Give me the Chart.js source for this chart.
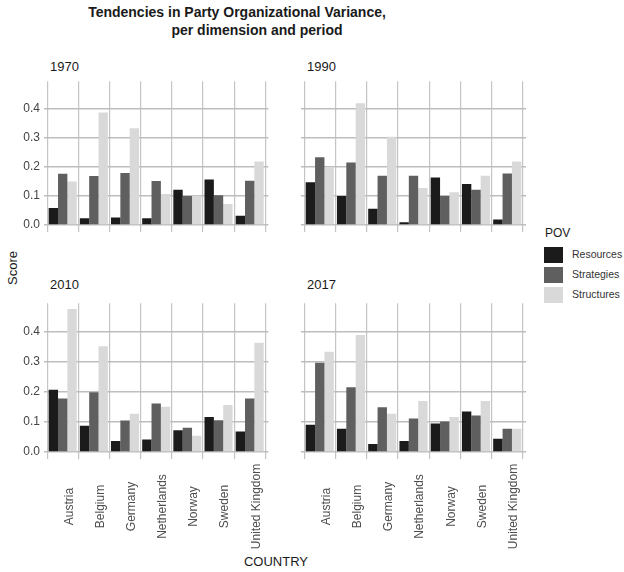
<!DOCTYPE html>
<html>
<head>
<meta charset="utf-8">
<script src="https://cdn.jsdelivr.net/npm/chart.js@4/dist/chart.umd.min.js"></script>
<style>
  body { margin: 0; background: #fff; font-family: 'Liberation Sans', Arial, sans-serif; }
  #page { position: relative; width: 624px; height: 572px; overflow: hidden; }
  canvas { position: absolute; }
  .txt { position: absolute; white-space: nowrap; color: #1a1a1a; }
  .title { font-weight: bold; font-size: 14px; transform: translateX(-50%); }
  .facet { font-size: 13px; }
  .swatch { position: absolute; width: 19px; height: 16px; }
  .leg { font-size: 10.5px; color: #333; }
</style>
</head>
<body>
<div id="page">
  <div class="txt title" style="left:237px; top:4px;">Tendencies in Party Organizational Variance,</div>
  <div class="txt title" style="left:257px; top:22px;">per dimension and period</div>

  <div class="txt facet" style="left:50px; top:59px;">1970</div>
  <div class="txt facet" style="left:307px; top:59px;">1990</div>
  <div class="txt facet" style="left:50px; top:277px;">2010</div>
  <div class="txt facet" style="left:307px; top:277px;">2017</div>

  <div class="txt" style="left:12px; top:268px; font-size:13px; transform: translate(-50%,-50%) rotate(-90deg);">Score</div>
  <div class="txt" style="left:276px; top:554px; font-size:13px; transform: translateX(-50%);">COUNTRY</div>

  <div class="txt" style="left:545px; top:226px; font-size:12px;">POV</div>
  <div id="legend"></div>

  <canvas id="c1970" width="270" height="173" style="left:0px; top:70px;"></canvas>
  <canvas id="c1990" width="230" height="173" style="left:296px; top:70px;"></canvas>
  <canvas id="c2010" width="270" height="263" style="left:0px; top:292px;"></canvas>
  <canvas id="c2017" width="230" height="263" style="left:296px; top:292px;"></canvas>
</div>
<script>
// Données
const countries = ['Austria', 'Belgium', 'Germany', 'Netherlands', 'Norway', 'Sweden', 'United Kingdom'];
const seriesNames = ['Resources', 'Strategies', 'Structures'];
const seriesColors = ['#1b1b1b', '#5f5f5f', '#d9d9d9'];
const yTicks = [0, 0.05, 0.1, 0.15, 0.2, 0.25, 0.3, 0.35, 0.4, 0.45];

const resources1970  = [0.058, 0.023, 0.026, 0.023, 0.121, 0.156, 0.032];
const strategies1970 = [0.176, 0.168, 0.178, 0.151, 0.099, 0.102, 0.152];
const structures1970 = [0.149, 0.386, 0.332, 0.106, 0.100, 0.072, 0.218];

const resources1990  = [0.147, 0.099, 0.056, 0.009, 0.163, 0.141, 0.019];
const strategies1990 = [0.232, 0.214, 0.169, 0.169, 0.099, 0.121, 0.177];
const structures1990 = [0.199, 0.418, 0.303, 0.127, 0.112, 0.169, 0.218];

const resources2010  = [0.206, 0.087, 0.036, 0.041, 0.072, 0.116, 0.068];
const strategies2010 = [0.177, 0.198, 0.104, 0.161, 0.080, 0.105, 0.177];
const structures2010 = [0.474, 0.351, 0.127, 0.150, 0.054, 0.156, 0.362];

const resources2017  = [0.090, 0.077, 0.026, 0.036, 0.094, 0.134, 0.044];
const strategies2017 = [0.296, 0.215, 0.148, 0.111, 0.101, 0.121, 0.077];
const structures2017 = [0.332, 0.388, 0.127, 0.169, 0.116, 0.169, 0.077];

// Expansion des axes façon ggplot
const Y_MIN = -0.0235;
const Y_MAX = 0.4935;
const X_MIN = -0.6;
const X_MAX = countries.length - 1 + 0.6;

Chart.defaults.font.family = "'Liberation Sans', Arial, sans-serif";
Chart.defaults.animation = false;

// Légende en HTML
const legend = document.getElementById('legend');
seriesNames.forEach((name, i) => {
    const sw = document.createElement('div');
    sw.className = 'swatch';
    sw.style.left = '544px';
    sw.style.top = (247 + i * 20) + 'px';
    sw.style.background = seriesColors[i];
    legend.appendChild(sw);
    const lb = document.createElement('div');
    lb.className = 'txt leg';
    lb.style.left = '572px';
    lb.style.top = (248 + i * 20) + 'px';
    lb.textContent = name;
    legend.appendChild(lb);
});

// Étiquettes de l'axe X pivotées et centrées (comme ggplot)
const rotatedLabels = {
    id: 'rotatedLabels',
    afterDraw(chart) {
        if (!chart.options.plugins.rotatedLabels.show) return;
        const ctx = chart.ctx;
        const xs = chart.scales.x;
        ctx.save();
        ctx.fillStyle = '#4d4d4d';
        ctx.font = "12px 'Liberation Sans', Arial, sans-serif";
        ctx.textAlign = 'center';
        ctx.textBaseline = 'middle';
        countries.forEach((c, i) => {
            const x = xs.getPixelForValue(i);
            ctx.save();
            ctx.translate(x + 6.5, chart.chartArea.bottom + 47.5);
            ctx.rotate(-Math.PI / 2);
            ctx.fillText(c, 0, 0);
            ctx.restore();
        });
        ctx.restore();
    }
};

function createPanel(id, values, isLeft, isBottom) {
    const ctx = document.getElementById(id);
    return new Chart(ctx, {
        type: 'bar',
        data: {
            datasets: seriesNames.map((name, i) => ({
                label: name,
                data: values[i].map((v, k) => ({ x: k, y: v })),
                backgroundColor: seriesColors[i],
                borderWidth: 0,
                categoryPercentage: 0.9,
                barPercentage: 1.0
            }))
        },
        options: {
            responsive: false,
            maintainAspectRatio: false,
            layout: {
                padding: { top: isBottom ? 4 : 4.5, right: isLeft ? 1.6 : 0, bottom: 0, left: 0 }
            },
            scales: {
                x: {
                    type: 'linear',
                    min: X_MIN,
                    max: X_MAX,
                    offset: false,
                    border: { display: false },
                    afterBuildTicks: (scale) => {
                        scale.ticks = countries.map((c, i) => ({ value: i }));
                    },
                    grid: {
                        drawTicks: false,
                        color: '#c4c4c4',
                        lineWidth: 1.2
                    },
                    ticks: { display: false },
                    afterFit: (scale) => { scale.height = isBottom ? 96 : 4.5; }
                },
                y: {
                    min: Y_MIN,
                    max: Y_MAX,
                    border: { display: false },
                    afterBuildTicks: (scale) => {
                        scale.ticks = yTicks.map(v => ({ value: v }));
                    },
                    grid: {
                        drawTicks: false,
                        color: (c) => (c.index % 2 === 0 ? '#bdbdbd' : '#dcdcdc'),
                        lineWidth: (c) => (c.index % 2 === 0 ? 1.4 : 0.8)
                    },
                    ticks: {
                        display: true,
                        padding: 4,
                        color: isLeft ? '#444444' : 'rgba(0,0,0,0)',
                        font: { size: 12 },
                        callback: (v, idx) => (isLeft && idx % 2 === 0 ? Number(v).toFixed(1) : '')
                    },
                    afterFit: (scale) => { scale.width = isLeft ? 44 : 5; }
                }
            },
            plugins: {
                legend: { display: false },
                tooltip: { enabled: false },
                rotatedLabels: { show: isBottom }
            }
        },
        plugins: [rotatedLabels]
    });
}

createPanel('c1970', [resources1970, strategies1970, structures1970], true, false);
createPanel('c1990', [resources1990, strategies1990, structures1990], false, false);
createPanel('c2010', [resources2010, strategies2010, structures2010], true, true);
createPanel('c2017', [resources2017, strategies2017, structures2017], false, true);
</script>
</body>
</html>
